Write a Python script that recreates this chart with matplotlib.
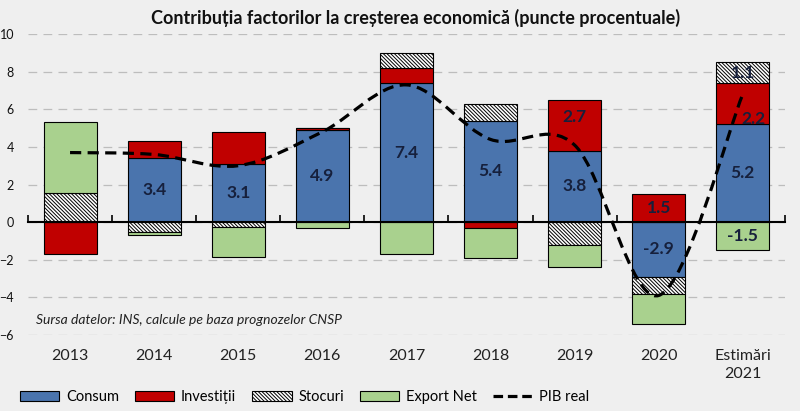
""" Contributia factorilor la cresterea economica - grafic cu bare stivuite

"""
import numpy as np
import matplotlib
matplotlib.use('Agg')
import matplotlib.pyplot as plt
import matplotlib.transforms as mtransforms
from matplotlib.path import Path
from matplotlib.patches import PathPatch, Patch
from matplotlib.lines import Line2D


ani = ['2013', '2014', '2015', '2016', '2017', '2018', '2019', '2020', 'Estimări\n2021']
consum = [0.0, 3.4, 3.1, 4.9, 7.4, 5.4, 3.8, -2.9, 5.2]
investitii = [-1.7, 0.9, 1.7, 0.1, 0.8, -0.3, 2.7, 1.5, 2.2]
stocuri = [1.55, -0.5, -0.25, 0.0, 0.8, 0.9, -1.2, -0.9, 1.1]
export_net = [3.8, -0.2, -1.6, -0.3, -1.7, -1.6, -1.2, -1.6, -1.5]
pib_real = [3.7, 3.6, 3.0, 4.8, 7.3, 4.4, 4.1, -3.9, 6.8]

# which segments carry a value label (index of year)
etichete = {'Consum': [1, 2, 3, 4, 5, 6, 7, 8],
            'Investiții': [6, 7, 8],
            'Stocuri': [8],
            'Export Net': [8]}

FUNDAL = '#efefef'
ALBASTRU = '#4a74ad'
ROSU = '#c00000'
VERDE = '#a9d18e'
TEXT = '#16203c'
HASURA = '\\' * 9

plt.rcParams['font.family'] = ['Lato', 'DejaVu Sans']
plt.rcParams['hatch.linewidth'] = 0.7


def smooth_path(xs, ys):
    # Catmull-Rom curve drawn as cubic bezier segments (like Excel smoothed line)
    pts = list(zip(xs, ys))
    verts, codes = [pts[0]], [Path.MOVETO]
    for i in range(len(pts) - 1):
        p0 = pts[i - 1] if i > 0 else pts[i]
        p1, p2 = pts[i], pts[i + 1]
        p3 = pts[i + 2] if i + 2 < len(pts) else pts[i + 1]
        c1 = (p1[0] + (p2[0] - p0[0]) / 6, p1[1] + (p2[1] - p0[1]) / 6)
        c2 = (p2[0] - (p3[0] - p1[0]) / 6, p2[1] - (p3[1] - p1[1]) / 6)
        verts += [c1, c2, p2]
        codes += [Path.CURVE4] * 3
    return Path(verts, codes)


fig = plt.figure(figsize=(8, 4.11), dpi=100, facecolor=FUNDAL)
ax = fig.add_axes([0.035, 0.185, 0.946, 0.732])
ax.set_facecolor(FUNDAL)

x = np.arange(len(ani))
series = [('Consum', consum, dict(color=ALBASTRU)),
          ('Investiții', investitii, dict(color=ROSU)),
          ('Stocuri', stocuri, dict(color='white', hatch=HASURA)),
          ('Export Net', export_net, dict(color=VERDE))]

pos = np.zeros(len(x))
neg = np.zeros(len(x))
for name, vals, style in series:
    vals = np.array(vals)
    bottom = np.where(vals >= 0, pos, neg)
    ax.bar(x, vals, 0.63, bottom=bottom, edgecolor='black', linewidth=0.8,
           zorder=2, **style)
    for i in etichete[name]:
        dx, dy = 0, 0
        if name == 'Investiții' and i == 6:
            dy = 6
        if name == 'Investiții' and i == 8:
            dx, dy = 8, -11
        ax.annotate(f'{vals[i]:.1f}', (x[i], bottom[i] + vals[i] / 2),
                    xytext=(dx, dy), textcoords='offset points',
                    ha='center', va='center', fontsize=12.5, fontweight='bold',
                    color=TEXT, zorder=4)
    pos += np.clip(vals, 0, None)
    neg += np.clip(vals, None, 0)

ax.add_patch(PathPatch(smooth_path(x, pib_real), facecolor='none', edgecolor='black',
                       linewidth=2.3, linestyle=(0, (3.5, 2)), zorder=5,
                       capstyle='butt'))

ax.set_xlim(-0.5, len(x) - 0.5)
ax.set_ylim(-6, 10)
ax.set_yticks(np.arange(-6, 11, 2))
ax.yaxis.grid(True, color='#bdbdbd', linewidth=0.9, linestyle=(0, (7, 5)))
ax.set_axisbelow(True)
for s in ['left', 'top', 'right']:
    ax.spines[s].set_visible(False)
ax.spines['bottom'].set_position(('data', 0))
ax.spines['bottom'].set_linewidth(1.5)
ax.spines['bottom'].set_zorder(3)
ax.set_xticks(np.arange(-0.5, len(x), 1))
ax.tick_params(axis='x', direction='in', length=5, width=1.2, labelbottom=False)
ax.tick_params(axis='y', length=0, pad=10, labelsize=9, labelcolor='#111111')

trans = mtransforms.blended_transform_factory(ax.transData, ax.transAxes)
for i, an in enumerate(ani):
    ax.text(x[i], -0.045, an, transform=trans, ha='center', va='top',
            fontsize=11.5, color='#222222', linespacing=1.45)

ax.text(0.011, 0.05, 'Sursa datelor: INS, calcule pe baza prognozelor CNSP',
        transform=ax.transAxes, fontsize=10, style='italic', color='#222222',
        va='center')

fig.text(0.52, 0.956, 'Contribuția factorilor la creșterea economică (puncte procentuale)',
         ha='center', va='center', fontsize=13, fontweight='bold', color='#111111')

handles = [Patch(facecolor=ALBASTRU, edgecolor='black', linewidth=0.8),
           Patch(facecolor=ROSU, edgecolor='black', linewidth=0.8),
           Patch(facecolor='white', edgecolor='black', linewidth=0.8, hatch=HASURA),
           Patch(facecolor=VERDE, edgecolor='black', linewidth=0.8),
           Line2D([], [], color='black', linewidth=2.3, linestyle=(0, (3, 1.5)))]
fig.legend(handles, ['Consum', 'Investiții', 'Stocuri', 'Export Net', 'PIB real'],
           loc='center left', bbox_to_anchor=(0.025, 1 - 397 / 411), ncol=5,
           frameon=False, fontsize=10.5, handlelength=2.7, handleheight=0.75,
           handletextpad=0.45, columnspacing=1.1, borderpad=0, borderaxespad=0)

plt.savefig('out.png', dpi=100, facecolor=FUNDAL)
